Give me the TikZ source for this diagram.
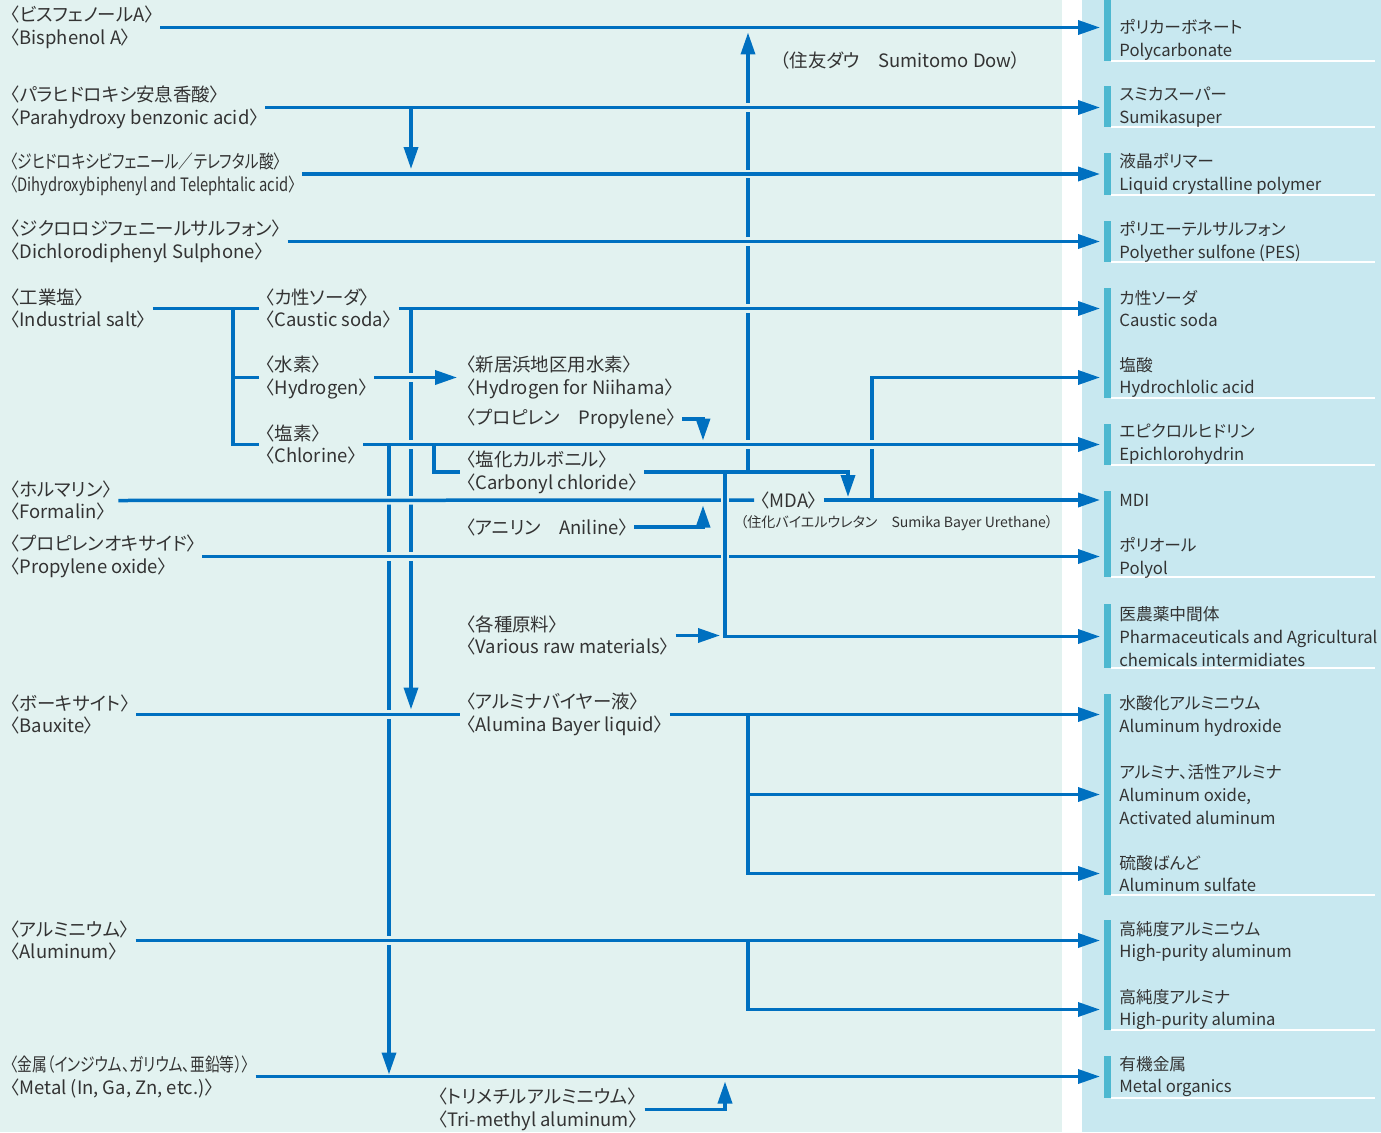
\documentclass[tikz,border=0pt]{standalone}
\usepackage{fontspec}
\setmainfont{Noto Sans CJK JP}[RawFeature=+palt]
\newfontfamily\narrowfont{Noto Sans CJK JP}[RawFeature=+palt, FakeStretch=0.8]
\usetikzlibrary{positioning,arrows.meta}
\definecolor{mint}{HTML}{E2F2F0}
\definecolor{paleblue}{HTML}{C8E8F0}
\definecolor{barteal}{HTML}{4DB8D0}
\definecolor{flowblue}{HTML}{0070C0}
\definecolor{ink}{HTML}{333333}
\tikzset{
  flow/.style={draw=flowblue, line width=0.07cm},
  flowarr/.style={flow, -{Triangle[length=0.44cm,width=0.28cm]}},
  over/.style={preaction={draw=mint, line width=0.17cm, -, shorten >=#1}},
  over/.default=0pt,
  lbl/.style={anchor=west, align=left, inner xsep=0.12cm, inner ysep=0pt,
    text=ink, font=\fontsize{10.5}{13}\selectfont},
  narrowlbl/.style={lbl, font=\narrowfont\fontsize{10.5}{13}\selectfont},
  prod/.style={lbl, inner xsep=0.38cm, font=\fontsize{9.5}{13}\selectfont},
}
\begin{document}
\begin{tikzpicture}[x=0.02cm,y=-0.02cm]
	\useasboundingbox (0,0) rectangle (1381,1132);
	\fill[mint] (0,0) rectangle (1062,1132);
	\fill[white] (1062,0) rectangle (1082,1132);
	\fill[paleblue] (1082,0) rectangle (1381,1132);
	% product groups
	\foreach \ya/\yb in {0/61,86/127,153/195,221/262,288/398,424/465,491/577,604/668,694/895,920/1030,1056/1098}{
		\fill[barteal] (1104,\ya) rectangle (1111,\yb);
		\draw[white, line width=0.04cm] (1111,\yb) -- (1375,\yb);
	}
	%% raw materials
	\node[lbl] (bisA) at (4,27.5) {〈ビスフェノールA〉\\〈Bisphenol A〉};
	\node[lbl] (pHBA) at (4,107.5) {〈パラヒドロキシ安息香酸〉\\〈Parahydroxy benzonic acid〉};
	\node[narrowlbl] (dhbp) at (4,174) {〈ジヒドロキシビフェニール／テレフタル酸〉\\〈Dihydroxybiphenyl and Telephtalic acid〉};
	\node[lbl] (dcdps) at (4,241.5) {〈ジクロロジフェニールサルフォン〉\\〈Dichlorodiphenyl Sulphone〉};
	\node[lbl] (salt) at (4,308.5) {〈工業塩〉\\〈Industrial salt〉};
	\node[lbl] (caustic) at (259,308.5) {〈カ性ソーダ〉\\〈Caustic soda〉};
	\node[lbl] (hydrogen) at (259,377.5) {〈水素〉\\〈Hydrogen〉};
	\node[lbl] (chlorine) at (259,444.5) {〈塩素〉\\〈Chlorine〉};
	\node[lbl] (niihama) at (460,377.5) {〈新居浜地区用水素〉\\〈Hydrogen for Niihama〉};
	\node[lbl] (propylene) at (460,419) {〈プロピレン　Propylene〉};
	\node[lbl] (carbonyl) at (460,472) {〈塩化カルボニル〉\\〈Carbonyl chloride〉};
	\node[lbl] (formalin) at (4,500.5) {〈ホルマリン〉\\〈Formalin〉};
	\node[lbl, anchor=center] (mda) at (789,500) {〈MDA〉};
	\node[lbl, font=\fontsize{8}{10}\selectfont] (sbu) at (734,523) {（住化バイエルウレタン　Sumika Bayer Urethane）};
	\node[lbl] (aniline) at (460,527) {〈アニリン　Aniline〉};
	\node[lbl] (propox) at (4,556.5) {〈プロピレンオキサイド〉\\〈Propylene oxide〉};
	\node[lbl] (various) at (460,635.5) {〈各種原料〉\\〈Various raw materials〉};
	\node[lbl] (bauxite) at (4,714.5) {〈ボーキサイト〉\\〈Bauxite〉};
	\node[lbl] (bayer) at (460,714.5) {〈アルミナバイヤー液〉\\〈Alumina Bayer liquid〉};
	\node[lbl] (aluminum) at (4,940.5) {〈アルミニウム〉\\〈Aluminum〉};
	\node[lbl] (metal) at (4,1076.5) {{\narrowfont 〈金属（インジウム、ガリウム、亜鉛等）〉}\\〈Metal (In, Ga, Zn, etc.)〉};
	\node[lbl] (tma) at (432,1109.5) {〈トリメチルアルミニウム〉\\〈Tri-methyl aluminum〉};
	\node[lbl] (sdow) at (774,60) {（住友ダウ　Sumitomo Dow）};
	%% products
	\node[prod] (pc) at (1100,40) {ポリカーボネート\\Polycarbonate};
	\node[prod] (sumika) at (1100,107.5) {スミカスーパー\\Sumikasuper};
	\node[prod] (lcp) at (1100,174) {液晶ポリマー\\Liquid crystalline polymer};
	\node[prod] (pes) at (1100,241.5) {ポリエーテルサルフォン\\Polyether sulfone (PES)};
	\node[prod] (csoda) at (1100,308.5) {カ性ソーダ\\Caustic soda};
	\node[prod] (hcl) at (1100,377.5) {塩酸\\Hydrochlolic acid};
	\node[prod] (epi) at (1100,444.5) {エピクロルヒドリン\\Epichlorohydrin};
	\node[prod] (mdi) at (1100,500) {MDI};
	\node[prod] (polyol) at (1100,557.5) {ポリオール\\Polyol};
	\node[prod] (pharma) at (1100,636.5) {医農薬中間体\\Pharmaceuticals and Agricultural\\chemicals intermidiates};
	\node[prod] (alhyd) at (1100,715.5) {水酸化アルミニウム\\Aluminum hydroxide};
	\node[prod] (alox) at (1100,794.5) {アルミナ、活性アルミナ\\Aluminum oxide,\\Activated aluminum};
	\node[prod] (alsulf) at (1100,873.5) {硫酸ばんど\\Aluminum sulfate};
	\node[prod] (hpal) at (1100,941.5) {高純度アルミニウム\\High-purity aluminum};
	\node[prod] (hpalumina) at (1100,1009.5) {高純度アルミナ\\High-purity alumina};
	\node[prod] (metorg) at (1100,1076.5) {有機金属\\Metal organics};
	%% vertical rails
	\coordinate (saltx) at (233,0);
	\coordinate (cldrop) at (389,0);
	\coordinate (sodadrop) at (411,0);
	\coordinate (coclx) at (434,0);
	\coordinate (pgx) at (703,0);
	\coordinate (phx) at (725,0);
	\coordinate (pcx) at (748,0);
	\coordinate (mdax) at (848,0);
	\coordinate (hclx) at (872,0);
	% lines lying under the crossings
	\draw[flowarr, shorten >=0.1cm] (carbonyl.east -| pcx) -- (bisA.east -| pcx);
	\draw[flowarr] (mda.east -| hclx) |- (hcl.west);
	\draw[flowarr, over=0.8cm] (pHBA.east) -- (pHBA.east -| sumika.west);
	\draw[flowarr, over=0.8cm] (dhbp.east) -- (dhbp.east -| lcp.west);
	\draw[flowarr, over=0.8cm] (dcdps.east) -- (dcdps.east -| pes.west);
	\draw[flowarr, over=0.8cm] (caustic.east) -- (caustic.east -| csoda.west);
	\draw[flowarr, shorten >=0.1cm] (pHBA.east -| sodadrop) -- (dhbp.east -| sodadrop);
	\draw[flowarr, shorten >=0.1cm] (caustic.east -| sodadrop) -- (bauxite.east -| sodadrop);
	\draw[flowarr, over, shorten >=0.06cm] (hydrogen.east) -- (niihama.west);
	\draw[flowarr, over=0.8cm] (chlorine.east) -- (chlorine.east -| epi.west);
	% salt tree
	\draw[flow] (salt.east) -- (caustic.west);
	\draw[flow] (caustic.west -| saltx) |- (chlorine.west);
	\draw[flow] (hydrogen.west -| saltx) -- (hydrogen.west);
	\draw[flowarr, shorten >=0.04cm] (chlorine.east -| cldrop) -- (metal.east -| cldrop);
	\draw[flow] (chlorine.east -| coclx) |- (carbonyl.west);
	\draw[flowarr, shorten >=0.08cm] (propylene.east) -| (chlorine.east -| pgx);
	% MDA
	\draw[flow, over] (formalin.east) -- (mda.west);
	\draw[flowarr, shorten >=0.1cm] (aniline.east) -| (formalin.east -| pgx);
	\draw[flowarr] (mda.east) -- (mda.east -| mdi.west);
	\draw[flowarr, over=0.8cm] (propox.east) -- (propox.east -| polyol.west);
	\draw[flowarr, over=0.8cm] (carbonyl.east -| phx) |- (pharma.west);
	\draw[flowarr, shorten >=0.1cm] (various.east) -- (various.east -| phx);
	\draw[flowarr, shorten >=0.06cm] (carbonyl.east) -| (mda.east -| mdax);
	% alumina
	\draw[flow, over] (bauxite.east) -- (bayer.west);
	\draw[flowarr] (bayer.east) -- (bayer.east -| alhyd.west);
	\draw[flowarr] (bayer.east -| pcx) |- (alox.west);
	\draw[flowarr] (bayer.east -| pcx) |- (alsulf.west);
	\draw[flowarr, over=0.8cm] (aluminum.east) -- (aluminum.east -| hpal.west);
	\draw[flowarr] (aluminum.east -| pcx) |- (hpalumina.west);
	\draw[flowarr] (metal.east) -- (metal.east -| metorg.west);
	\draw[flowarr, shorten >=0.1cm] (tma.east) -| (metal.east -| phx);
	\draw[flowarr] (bisA.east) -- (bisA.east -| pc.west);
\end{tikzpicture}
\end{document}
